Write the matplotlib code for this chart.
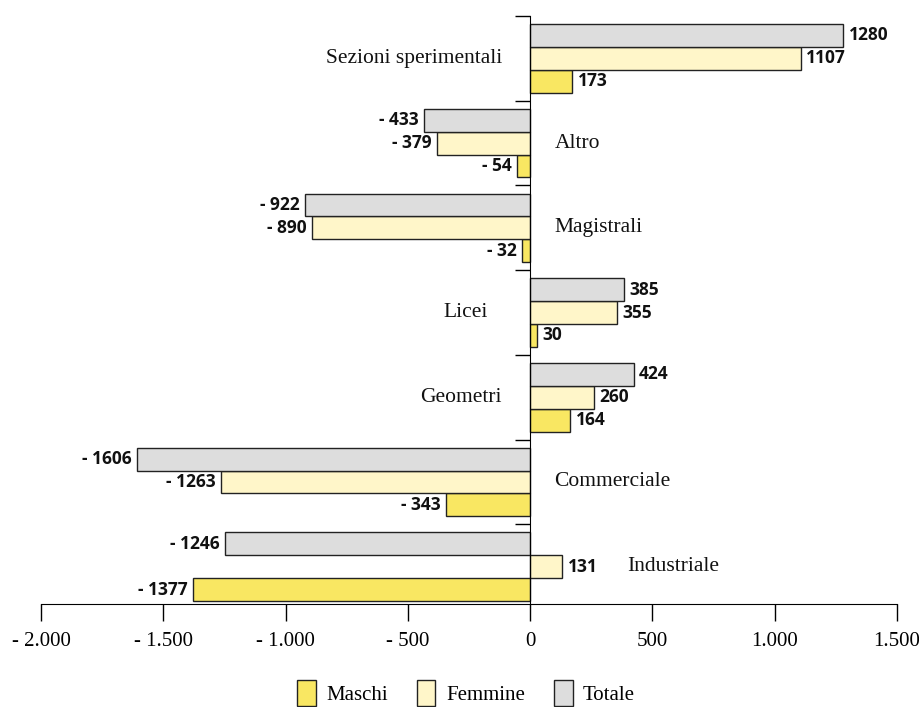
import numpy as np
import matplotlib
matplotlib.use("Agg")
import matplotlib.pyplot as plt
from matplotlib.patches import Patch

categories = ["Industriale", "Commerciale", "Geometri", "Licei",
              "Magistrali", "Altro", "Sezioni sperimentali"]
maschi = [-1377, -343, 164, 30, -32, -54, 173]
femmine = [131, -1263, 260, 355, -890, -379, 1107]
totale = [-1246, -1606, 424, 385, -922, -433, 1280]
xticks = [-2000, -1500, -1000, -500, 0, 500, 1000, 1500]

c_m = "#f9e762"
c_f = "#fff6c9"
c_t = "#dddddd"

serif = "Liberation Serif"
bold_sans = "Open Sans"

fig = plt.figure(figsize=(9.19, 7.07), dpi=100)
ax = fig.add_axes([41 / 919, 103 / 707, 856 / 919, 588 / 707])

y = np.arange(len(categories))
h = 0.27
for vals, off, col in [(maschi, -h, c_m), (femmine, 0, c_f), (totale, h, c_t)]:
    ax.barh(y + off, vals, height=h, color=col, edgecolor="#222222", linewidth=1.0, zorder=2)
    for yi, v in zip(y, vals):
        if v >= 0:
            ax.text(v + 22, yi + off, f"{v}", ha="left", va="center",
                    fontsize=12.5, fontweight="bold", family=bold_sans, color="#111111")
        else:
            ax.text(v - 22, yi + off, f"- {abs(v)}", ha="right", va="center",
                    fontsize=12.5, fontweight="bold", family=bold_sans, color="#111111")

# category names sit next to the axis, on the side without long bars
label_x = {"Industriale": 395, "Commerciale": 100, "Geometri": -115, "Licei": -175,
           "Magistrali": 100, "Altro": 100, "Sezioni sperimentali": -115}
for yi, cat in zip(y, categories):
    lx = label_x[cat]
    ax.text(lx, yi, cat, ha="left" if lx > 0 else "right", va="center",
            fontsize=15.5, family=serif, color="#111111")

ax.set_xlim(-2000, 1500)
ax.set_ylim(-0.44, 6.5)

ax.spines["top"].set_visible(False)
ax.spines["right"].set_visible(False)
ax.spines["left"].set_position(("data", 0))
ax.spines["left"].set_zorder(3)

ax.set_yticks(np.arange(0.5, 7, 1.0))
ax.set_yticklabels([])
ax.tick_params(axis="y", direction="out", length=11, width=1.0)

ax.set_xticks(xticks)
ax.set_xticklabels([("- " if t < 0 else "") + f"{abs(t):,}".replace(",", ".") for t in xticks],
                   family=serif, fontsize=15)
ax.tick_params(axis="x", direction="out", length=12, width=1.0, pad=8)

handles = [Patch(facecolor=c_m, edgecolor="#222222", label="Maschi"),
           Patch(facecolor=c_f, edgecolor="#222222", label="Femmine"),
           Patch(facecolor=c_t, edgecolor="#222222", label="Totale")]
fig.legend(handles=handles, loc="center", bbox_to_anchor=(0.507, 0.02), ncol=3,
           frameon=False, prop={"family": serif, "size": 15},
           handlelength=0.9, handleheight=1.5, handletextpad=0.5, columnspacing=1.4)

fig.savefig("out.png", dpi=100)
